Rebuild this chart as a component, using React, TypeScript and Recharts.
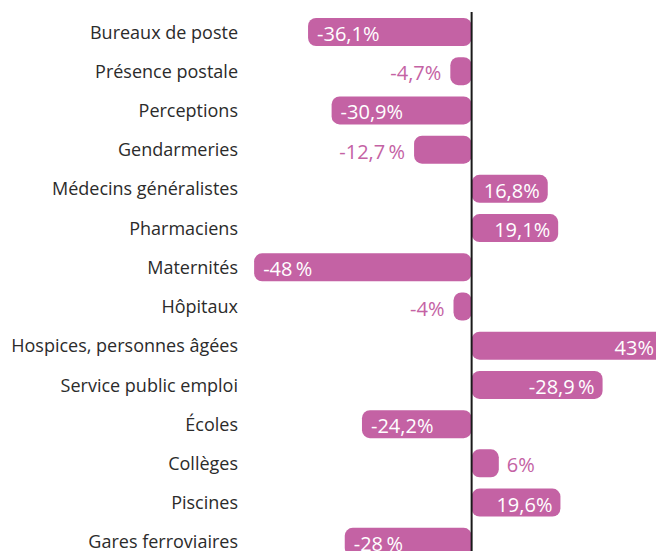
import { BarChart, Bar, XAxis, YAxis, ReferenceLine, LabelList } from 'recharts';

const categories = [
  'Bureaux de poste',
  'Présence postale',
  'Perceptions',
  'Gendarmeries',
  'Médecins généralistes',
  'Pharmaciens',
  'Maternités',
  'Hôpitaux',
  'Hospices, personnes âgées',
  'Service public emploi',
  'Écoles',
  'Collèges',
  'Piscines',
  'Gares ferroviaires',
];

const values = [-36.1, -4.7, -30.9, -12.7, 16.8, 19.1, -48, -4, 43, 28.9, -24.2, 6, 19.6, -28];

const valueLabels = [
  '-36,1%', '-4,7%', '-30,9%', '-12,7\u2009%', '16,8%', '19,1%', '-48\u2009%',
  '-4%', '43%', '-28,9\u2009%', '-24,2%', '6%', '19,6%', '-28\u2009%',
];

const PINK = '#c462a4';
const FONT = '"Open Sans", sans-serif';

const data = categories.map((name, i) => ({ name, value: values[i], label: valueLabels[i] }));

function CategoryTick({ y, payload }: any) {
  return (
    <text x={238} y={y} dy={7} textAnchor="end" fill="#2b2b2b" fontSize={18} fontFamily={FONT}>
      {payload.value}
    </text>
  );
}

function ValueLabel(props: any) {
  const { x, y, width, height, index } = props;
  const v = values[index];
  const left = Math.min(x, x + width);
  const right = Math.max(x, x + width);
  const cy = y + height / 2 + 9;
  const inside = Math.abs(v) >= 15;
  const text = valueLabels[index];
  if (inside) {
    if (v < 0) {
      return (
        <text x={left + 9} y={cy} fill="#fff" fontSize={20} fontFamily={FONT}>{text}</text>
      );
    }
    return (
      <text x={Math.min(right - 8, 654)} y={cy} textAnchor="end" fill="#fff" fontSize={20} fontFamily={FONT}>
        {text}
      </text>
    );
  }
  if (v < 0) {
    return (
      <text x={left - 9} y={cy} textAnchor="end" fill={PINK} fontSize={20} fontFamily={FONT}>{text}</text>
    );
  }
  return (
    <text x={right + 8} y={cy} fill={PINK} fontSize={20} fontFamily={FONT}>{text}</text>
  );
}

export default function App() {
  return (
    <div style={{ position: 'absolute', left: 0, top: 0, width: 656, height: 551, overflow: 'hidden', background: '#fff' }}>
      <BarChart
        width={671}
        height={561}
        data={data}
        layout="vertical"
        margin={{ top: 12, right: 0, bottom: 0, left: 0 }}
      >
        <XAxis type="number" domain={[-52, 44]} hide />
        <YAxis
          type="category"
          dataKey="name"
          width={236}
          axisLine={false}
          tickLine={false}
          tick={<CategoryTick />}
          interval={0}
        />
        <Bar dataKey="value" fill={PINK} barSize={28} radius={8} isAnimationActive={false}>
          <LabelList dataKey="label" content={<ValueLabel />} />
        </Bar>
        <ReferenceLine x={0} stroke="#1a1a1a" strokeWidth={2} />
      </BarChart>
    </div>
  );
}
